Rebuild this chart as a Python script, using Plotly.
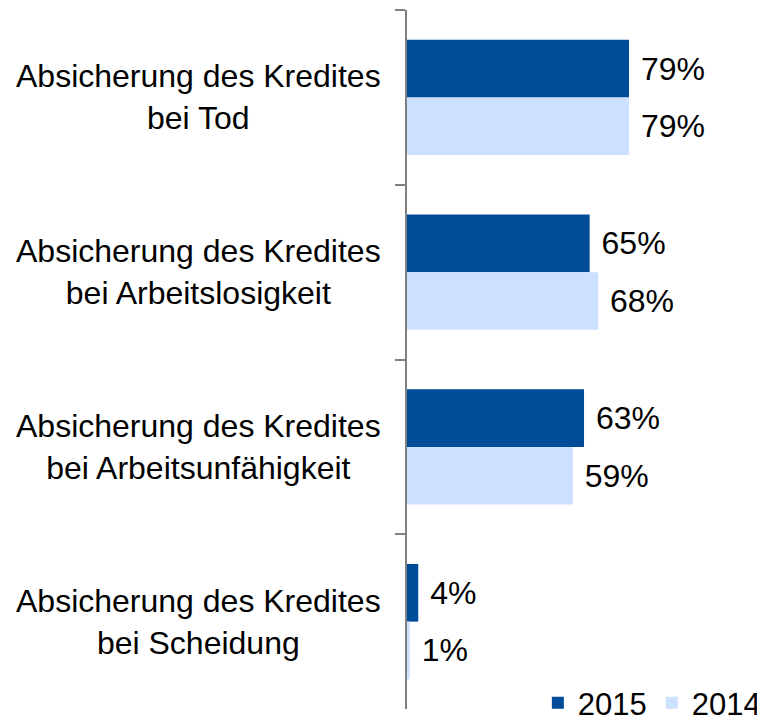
import plotly.graph_objects as go

categories = [
    "Absicherung des Kredites<br>bei Tod",
    "Absicherung des Kredites<br>bei Arbeitslosigkeit",
    "Absicherung des Kredites<br>bei Arbeitsunfähigkeit",
    "Absicherung des Kredites<br>bei Scheidung",
]
series_names = ["2015", "2014"]
values_2015 = [79, 65, 63, 4]
values_2014 = [79, 68, 59, 1]

colors = ["#004C99", "#CCE0FF"]
FONT = "Liberation Sans, Arial, sans-serif"
FS = 32

fig = go.Figure()
for name, vals, col in zip(series_names, [values_2015, values_2014], colors):
    fig.add_trace(go.Bar(
        y=categories, x=vals, name=name, orientation="h",
        marker=dict(color=col, line=dict(width=0)),
        text=[f"\u00a0{v}%" for v in vals],
        textposition="outside", cliponaxis=False,
        textfont=dict(family=FONT, size=FS, color="#000000"),
    ))

for c in categories:
    fig.add_annotation(
        x=0, xref="paper", xanchor="right", xshift=-24,
        y=c, yref="y", yanchor="middle",
        text=c, showarrow=False, align="center",
        font=dict(family=FONT, size=FS, color="#000000"),
    )

fig.update_layout(
    width=765, height=740,
    margin=dict(l=399, r=85, t=2, b=39),
    paper_bgcolor="white", plot_bgcolor="white",
    barmode="group", bargap=0.34, bargroupgap=0,
    font=dict(family=FONT, size=FS, color="#000000"),
    showlegend=True,
    legend=dict(orientation="h", xref="paper", x=1.277, xanchor="right",
                yref="paper", y=0.0085, yanchor="middle",
                font=dict(family=FONT, size=31), itemwidth=30,
                bgcolor="rgba(0,0,0,0)"),
    xaxis=dict(range=[0, 100], showgrid=False, zeroline=False, showline=False,
               showticklabels=False, ticks=""),
    yaxis=dict(autorange="reversed", showgrid=False, zeroline=False,
               showline=True, linecolor="#808080", linewidth=1.5,
               ticks="outside", tickson="boundaries", ticklen=10,
               tickcolor="#808080", tickwidth=1.5, showticklabels=False),
)

fig.write_html("out.html")
